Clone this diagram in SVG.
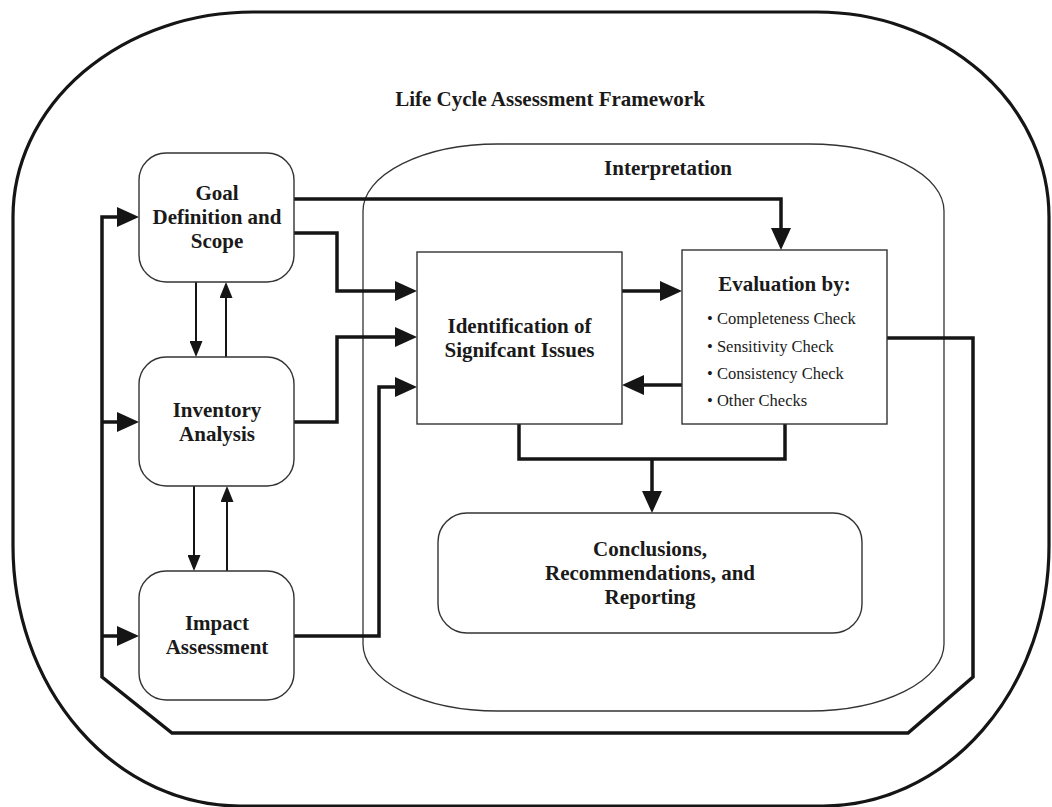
<svg xmlns="http://www.w3.org/2000/svg" width="1052" height="807" viewBox="0 0 1052 807">
  <style>
    .frame { fill: none; stroke: #151515; stroke-width: 3.2; }
    .box { fill: #ffffff; stroke: #333333; stroke-width: 1.4; }
    .region { fill: none; stroke: #333333; stroke-width: 1.3; }
    .thick { fill: none; stroke: #151515; stroke-width: 3.5; stroke-linejoin: miter; }
    .thin { fill: none; stroke: #151515; stroke-width: 2; }
    .lbl { font-family: "Liberation Serif", "Times New Roman", serif; font-weight: bold; font-size: 21px; fill: #1a1a1a; text-anchor: middle; }
    .item { font-family: "Liberation Serif", "Times New Roman", serif; font-size: 16.5px; fill: #1a1a1a; }
  </style>
  <defs>
    <marker id="bigArrow" viewBox="0 0 22 20" refX="12" refY="10" markerWidth="22" markerHeight="20" markerUnits="userSpaceOnUse" orient="auto">
      <path d="M0,0 L22,10 L0,20 Z" fill="#151515"/>
    </marker>
    <marker id="smallArrow" viewBox="0 0 16 13" refX="8" refY="6.5" markerWidth="16" markerHeight="13" markerUnits="userSpaceOnUse" orient="auto">
      <path d="M0,0 L16,6.5 L0,13 Z" fill="#151515"/>
    </marker>
  </defs>

  <rect width="1052" height="807" fill="#ffffff"/>

  <!-- outer framework boundary -->
  <g id="framework">
    <path class="frame" d="M253,12 H817 A232,205 0 0 1 1049,217 V546 A226,260 0 0 1 823,806 H240 A227,260 0 0 1 13,546 V217 A240,205 0 0 1 253,12 Z"/>
    <text class="lbl" x="550" y="106">Life Cycle Assessment Framework</text>
  </g>

  <!-- interpretation region -->
  <g id="interpretation">
    <rect class="region" x="363" y="144" width="581" height="567" rx="135" ry="67"/>
    <text class="lbl" x="668" y="175">Interpretation</text>
  </g>

  <!-- connectors -->
  <g id="connectors">
    <path class="thick" d="M294,199 H781 V240" marker-end="url(#bigArrow)"/>
    <path class="thick" d="M294,233 H337 V291 H407" marker-end="url(#bigArrow)"/>
    <path class="thick" d="M294,422 H337 V337 H407" marker-end="url(#bigArrow)"/>
    <path class="thick" d="M294,636 H379 V387 H407" marker-end="url(#bigArrow)"/>
    <path class="thick" d="M622,291 H672" marker-end="url(#bigArrow)"/>
    <path class="thick" d="M682,385 H632" marker-end="url(#bigArrow)"/>
    <path class="thick" d="M519,424 V459 H785 V424"/>
    <path class="thick" d="M652,459 V503" marker-end="url(#bigArrow)"/>
    <path class="thick" d="M887,338 H973 V677 L908,733 H172 L102,677 V217 H129" marker-end="url(#bigArrow)"/>
    <path class="thick" d="M102,422 H129" marker-end="url(#bigArrow)"/>
    <path class="thick" d="M102,636 H129" marker-end="url(#bigArrow)"/>
    <path class="thin" d="M196,282 V349" marker-end="url(#smallArrow)"/>
    <path class="thin" d="M226,357 V290" marker-end="url(#smallArrow)"/>
    <path class="thin" d="M194,486 V563" marker-end="url(#smallArrow)"/>
    <path class="thin" d="M227,571 V494" marker-end="url(#smallArrow)"/>
  </g>

  <!-- phase nodes -->
  <g id="goal">
    <rect class="box" x="139" y="153" width="155" height="129" rx="27" ry="27"/>
    <text class="lbl" x="217" y="200">Goal</text>
    <text class="lbl" x="217" y="224">Definition and</text>
    <text class="lbl" x="217" y="248">Scope</text>
  </g>

  <g id="inventory">
    <rect class="box" x="139" y="357" width="155" height="129" rx="27" ry="27"/>
    <text class="lbl" x="217" y="417">Inventory</text>
    <text class="lbl" x="217" y="441">Analysis</text>
  </g>

  <g id="impact">
    <rect class="box" x="139" y="571" width="155" height="129" rx="27" ry="27"/>
    <text class="lbl" x="217" y="630">Impact</text>
    <text class="lbl" x="217" y="654">Assessment</text>
  </g>

  <g id="identification">
    <rect class="box" x="417" y="252" width="205" height="172"/>
    <text class="lbl" x="519.5" y="333">Identification of</text>
    <text class="lbl" x="519.5" y="357">Signifcant Issues</text>
  </g>

  <g id="evaluation">
    <rect class="box" x="682" y="250" width="205" height="174"/>
    <text class="lbl" x="784.5" y="291">Evaluation by:</text>
    <text class="item" x="707" y="324">• Completeness Check</text>
    <text class="item" x="707" y="352">• Sensitivity Check</text>
    <text class="item" x="707" y="379">• Consistency Check</text>
    <text class="item" x="707" y="406">• Other Checks</text>
  </g>

  <g id="conclusions">
    <rect class="box" x="438" y="513" width="424" height="120" rx="29" ry="29"/>
    <text class="lbl" x="650" y="556">Conclusions,</text>
    <text class="lbl" x="650" y="580">Recommendations, and</text>
    <text class="lbl" x="650" y="604">Reporting</text>
  </g>
</svg>
